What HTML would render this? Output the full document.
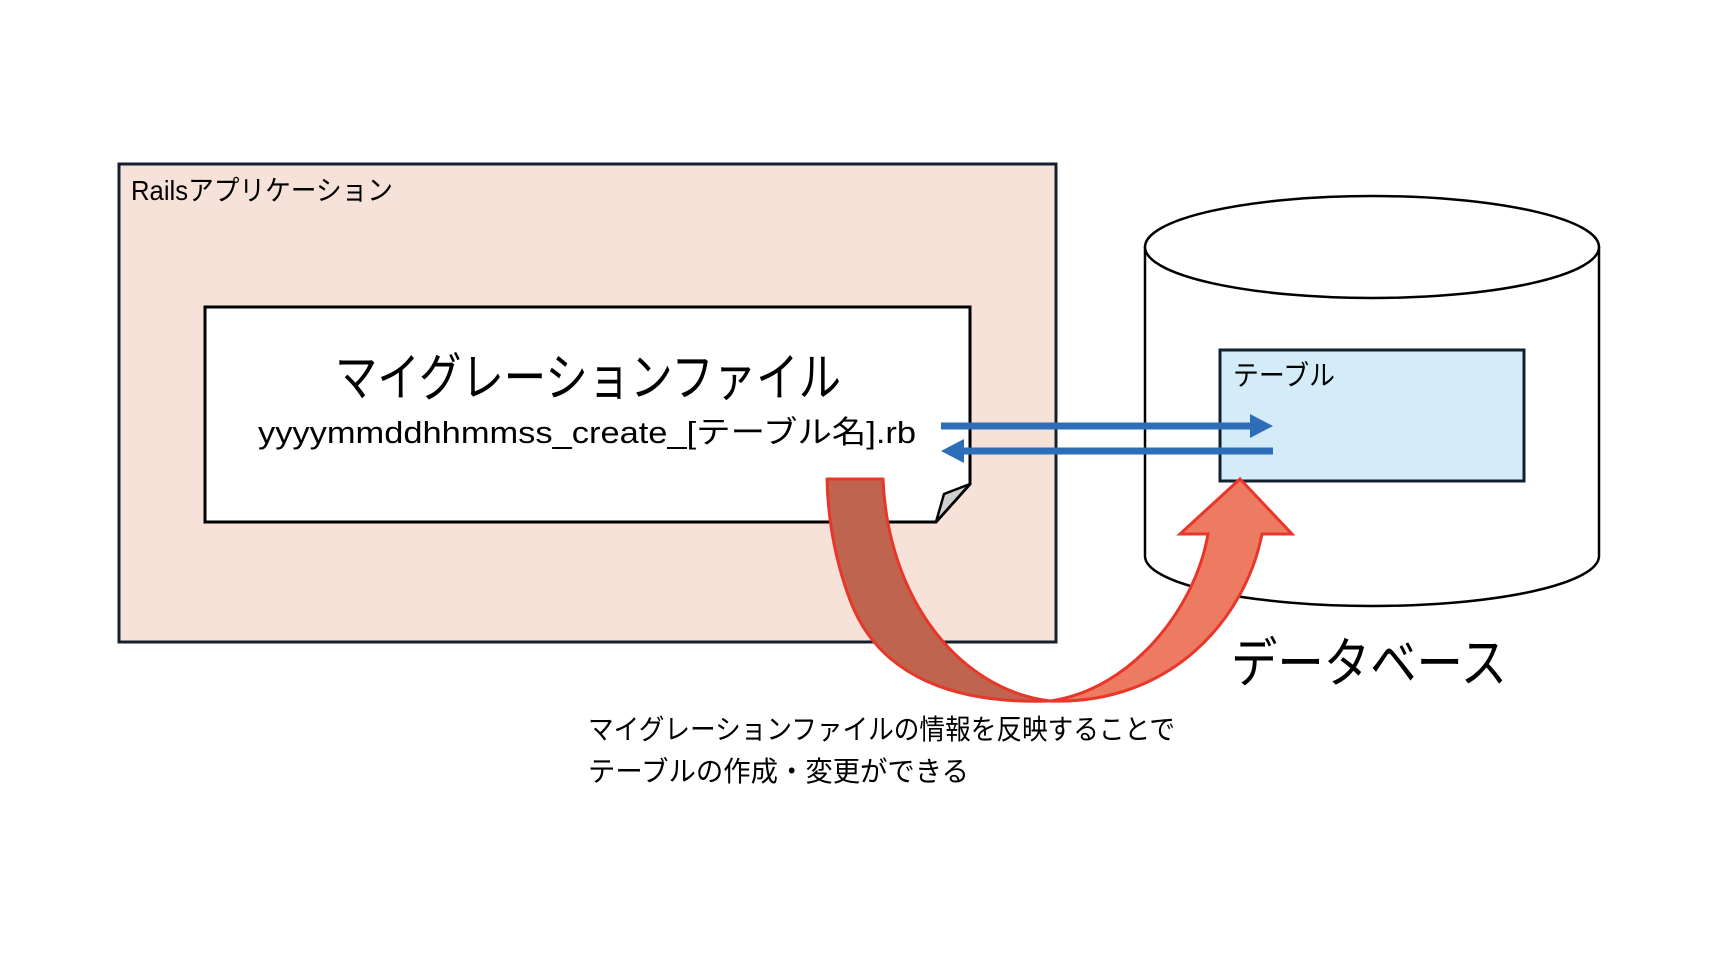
<!DOCTYPE html>
<html><head><meta charset="utf-8"><style>html,body{margin:0;padding:0;background:#fff}svg{display:block}</style></head>
<body>
<svg width="1716" height="956" viewBox="0 0 1716 956" xmlns="http://www.w3.org/2000/svg" font-family="'Liberation Sans','Noto Sans CJK JP',sans-serif">
<rect x="119" y="164" width="937" height="478" fill="#f6e2d8" stroke="#13212e" stroke-width="3"/>
<text x="131" y="200" font-size="28" textLength="262" lengthAdjust="spacingAndGlyphs" fill="#000">Railsアプリケーション</text>
<path d="M205 307 H970 V484 L936 522 H205 Z" fill="#fff" stroke="#000" stroke-width="3"/>
<path d="M936 522 L944 494 L970 484 Z" fill="#cfcfcf" stroke="#000" stroke-width="2.5" stroke-linejoin="round"/>
<text x="588" y="396" font-size="52" text-anchor="middle" textLength="506" lengthAdjust="spacingAndGlyphs" fill="#000">マイグレーションファイル</text>
<text x="587" y="443" font-size="31" text-anchor="middle" textLength="658" lengthAdjust="spacingAndGlyphs" fill="#000">yyyymmddhhmmss_create_[テーブル名].rb</text>
<path d="M1145 247 V556 A227 50 0 0 0 1599 556 V247" fill="#fff" stroke="#000" stroke-width="2.5"/>
<ellipse cx="1372" cy="247" rx="227" ry="51" fill="#fff" stroke="#000" stroke-width="2.5"/>
<rect x="1220" y="350" width="304" height="131" fill="#d3ecf8" stroke="#13212e" stroke-width="3"/>
<text x="1233" y="385" font-size="28" textLength="102" lengthAdjust="spacingAndGlyphs" fill="#000">テーブル</text>
<line x1="941" y1="426" x2="1255" y2="426" stroke="#2e6eb9" stroke-width="7"/>
<path d="M1273 426 L1250 414 L1250 438 Z" fill="#2e6eb9"/>
<line x1="1273" y1="451" x2="960" y2="451" stroke="#2e6eb9" stroke-width="7"/>
<path d="M941 451 L964 439 L964 463 Z" fill="#2e6eb9"/>
<text x="1231" y="682" font-size="54" textLength="276" lengthAdjust="spacingAndGlyphs" fill="#000">データベース</text>
<path d="M827 479 H883 C888 600 960 690 1050 701 C960 704 880 680 850 600 C835 560 828 520 827 479 Z" fill="#bf644e" stroke="#e8372a" stroke-width="3" stroke-linejoin="round"/>
<path d="M1050 701 C1130 690 1195 610 1208 534 H1180 L1240 479 L1292 534 H1262 C1245 620 1170 705 1050 701 Z" fill="#ed7b62" stroke="#e8372a" stroke-width="3" stroke-linejoin="miter"/>
<text x="588" y="739" font-size="28" textLength="587" lengthAdjust="spacingAndGlyphs" fill="#000">マイグレーションファイルの情報を反映することで</text>
<text x="588" y="781" font-size="28" textLength="381" lengthAdjust="spacingAndGlyphs" fill="#000">テーブルの作成・変更ができる</text>
</svg>
</body></html>
